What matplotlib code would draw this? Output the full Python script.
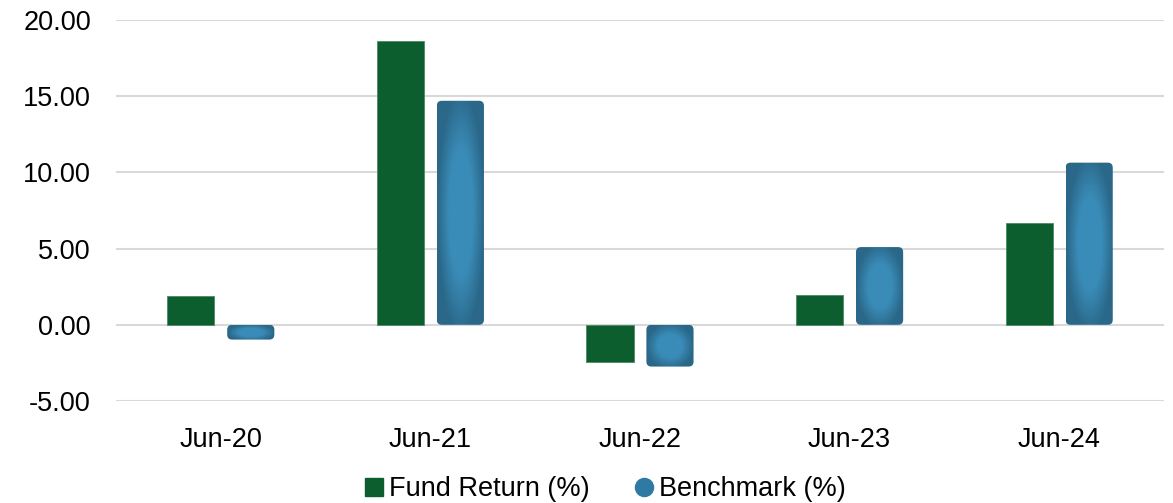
import numpy as np
import matplotlib.pyplot as plt
from matplotlib.patches import FancyBboxPatch
from matplotlib.lines import Line2D
from matplotlib.colors import LinearSegmentedColormap

plt.rcParams['font.family'] = ['Liberation Sans', 'DejaVu Sans']

categories = ['Jun-20', 'Jun-21', 'Jun-22', 'Jun-23', 'Jun-24']
fund_return = [1.89, 18.62, -2.45, 1.95, 6.68]
benchmark = [-0.97, 14.70, -2.74, 5.10, 10.64]
yticks = [-5, 0, 5, 10, 15, 20]

fund_color = '#0d5e2e'
bench_dark = '#2a6788'
bench_light = '#3a8cb8'

fig = plt.figure(figsize=(11.73, 5.03), dpi=100)
ax = fig.add_axes([116 / 1173, (503 - 401) / 503, (1164 - 116) / 1173, (401 - 20) / 503])

x = np.arange(len(categories))
width = 0.225
offset = 0.143

ax.bar(x - offset, fund_return, width, color=fund_color, edgecolor='#4a8a60',
       linewidth=0.6, zorder=3)

# benchmark bars: radial gradient clipped to a slightly rounded box
cmap = LinearSegmentedColormap.from_list('bench', [bench_light, bench_light, bench_dark])
gy, gx = np.mgrid[-1:1:120j, -1:1:60j]
grad = np.clip(np.sqrt(gx ** 2 + (gy * 0.9) ** 2), 0, 1)

x_px = 1048 / 5.0     # pixels per x unit
y_px = 381 / 25.0     # pixels per y unit
for xi, v in zip(x + offset, benchmark):
    x0 = xi - width / 2
    y0 = min(0, v)
    h = abs(v)
    box = FancyBboxPatch((x0, y0), width, h,
                         boxstyle='round,pad=0,rounding_size=%f' % (5 / x_px),
                         mutation_aspect=x_px / y_px,
                         facecolor='none', edgecolor='none', zorder=3)
    ax.add_patch(box)
    im = ax.imshow(grad, cmap=cmap, extent=[x0, x0 + width, y0, y0 + h],
                   origin='lower', aspect='auto', zorder=3, interpolation='bilinear')
    im.set_clip_path(box)

ax.set_xlim(-0.5, 4.5)
ax.set_ylim(-5, 20)
ax.set_yticks(yticks)
ax.set_yticklabels(['%.2f' % t for t in yticks])
ax.set_xticks(x)
ax.set_xticklabels(categories)
ax.tick_params(axis='both', length=0, labelsize=19.5, colors='#000000')
ax.tick_params(axis='x', pad=19)
ax.tick_params(axis='y', pad=18)
ax.grid(axis='y', color='#d9d9d9', linewidth=1.5, zorder=0)
ax.set_axisbelow(True)
for s in ax.spines.values():
    s.set_visible(False)

handles = [
    Line2D([], [], marker='s', linestyle='none', markersize=13, color=fund_color),
    Line2D([], [], marker='o', linestyle='none', markersize=13, color='#2f7aa3'),
]
fig.legend(handles, ['Fund Return (%)', 'Benchmark (%)'], loc='center',
           bbox_to_anchor=(603 / 1173, 1 - 489 / 503), ncol=2, frameon=False,
           fontsize=19.5, handletextpad=0.05, columnspacing=1.5, handlelength=1.0)

fig.savefig('out.png', dpi=100)
